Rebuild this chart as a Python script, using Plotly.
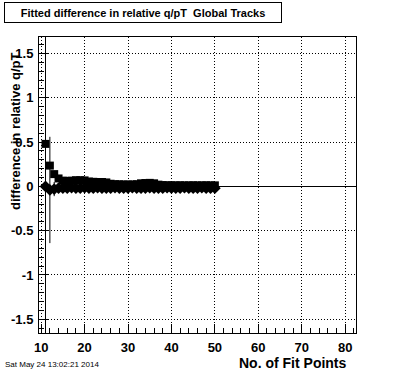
import plotly.graph_objects as go

# ---- data ----
fit_points = list(range(11, 51))

rel_diff_mean = [0.48, 0.235, 0.139, 0.09, 0.065, 0.062, 0.065, 0.07, 0.07, 0.068,
                 0.055, 0.052, 0.05, 0.05, 0.045, 0.03, 0.025, 0.024, 0.022, 0.022,
                 0.022, 0.025, 0.035, 0.038, 0.04, 0.035, 0.02, 0.015, 0.013, 0.013,
                 0.012, 0.013, 0.012, 0.012, 0.013, 0.012, 0.012, 0.013, 0.012, 0.012]

rel_diff_fit = [0.0, -0.04, -0.03, -0.02, -0.02, -0.02, -0.015, -0.02, -0.02, -0.015,
                -0.02, -0.02, -0.015, -0.02, -0.02, -0.02, -0.015, -0.02, -0.02, -0.02,
                -0.015, -0.02, -0.02, -0.02, -0.015, -0.02, -0.02, -0.02, -0.015, -0.02,
                -0.02, -0.02, -0.015, -0.02, -0.02, -0.02, -0.015, -0.02, -0.02, -0.02]

rel_diff_fit_err = [2.0, 0.6, 0.08, 0.04, 0.03, 0.025, 0.02, 0.02, 0.02, 0.02,
                    0.02, 0.02, 0.02, 0.02, 0.02, 0.02, 0.02, 0.02, 0.02, 0.02,
                    0.02, 0.02, 0.02, 0.02, 0.02, 0.02, 0.02, 0.02, 0.02, 0.02,
                    0.02, 0.02, 0.02, 0.02, 0.02, 0.02, 0.02, 0.02, 0.02, 0.02]

x_tick_vals = [10, 20, 30, 40, 50, 60, 70, 80]
x_tick_labels = ["10", "20", "30", "40", "50", "60", "70", "80"]
y_tick_vals = [-1.5, -1.0, -0.5, 0.0, 0.5, 1.0, 1.5]
y_tick_labels = ["-1.5", "-1", "-0.5", "0", "0.5", "1", "1.5"]

title_text = "Fitted difference in relative q/pT\u00a0\u00a0Global Tracks"
x_title = "No. of Fit Points"
y_title = "difference in relative q/pT"
date_text = "Sat May 24 13:02:21 2014"

FONT = "Liberation Sans, Arial, Helvetica, sans-serif"

fig = go.Figure()

fig.add_trace(go.Scatter(
    x=fit_points, y=rel_diff_fit, mode="markers",
    marker=dict(symbol="diamond", size=9, color="black"),
    error_y=dict(type="data", array=rel_diff_fit_err, color="black", thickness=1, width=0),
    cliponaxis=True, hoverinfo="x+y"))

fig.add_trace(go.Scatter(
    x=fit_points, y=rel_diff_mean, mode="markers",
    marker=dict(symbol="square", size=8, color="black"),
    cliponaxis=True, hoverinfo="x+y"))

axis_common = dict(
    showline=True, linecolor="black", linewidth=1, mirror=True,
    ticks="inside", ticklen=9, tickcolor="black", tickwidth=1,
    showgrid=True, gridcolor="black", gridwidth=1, griddash="1px,2px",
    tickfont=dict(family=FONT, size=13, color="black", weight="bold"),
)

W, H = 396, 372
L, R, T, B = 39, 40, 37, 39
PW, PH = W - L - R, H - T - B


def px_x(px):
    return (px - L) / PW


def px_y(py):
    return (H - B - py) / PH


fig.update_layout(
    width=W, height=H,
    margin=dict(l=L, r=R, t=T, b=B),
    paper_bgcolor="white", plot_bgcolor="white",
    showlegend=False,
    xaxis=dict(range=[9.5, 82.5], tickmode="array", tickvals=x_tick_vals,
               ticktext=x_tick_labels, zeroline=False, ticklabelstandoff=2,
               minor=dict(dtick=2, tick0=0, ticks="inside", ticklen=5,
                          tickcolor="black", showgrid=False),
               **axis_common),
    yaxis=dict(range=[-1.655, 1.687], tickmode="array", tickvals=y_tick_vals,
               ticktext=y_tick_labels, zeroline=True, zerolinecolor="black",
               zerolinewidth=1, ticklabelstandoff=2,
               minor=dict(dtick=0.1, tick0=0, ticks="inside", ticklen=5,
                          tickcolor="black", showgrid=False),
               **axis_common),
    annotations=[
        dict(text=title_text, xref="paper", yref="paper", x=px_x(4), y=px_y(2),
             xanchor="left", yanchor="top", showarrow=False, width=276, height=19,
             align="center", valign="middle", bordercolor="black", borderwidth=1,
             borderpad=0, bgcolor="white",
             font=dict(family=FONT, size=11, color="black", weight="bold")),
        dict(text=x_title, xref="paper", yref="paper", x=px_x(349), y=px_y(363),
             xanchor="right", yanchor="middle", showarrow=False,
             font=dict(family=FONT, size=14, color="black", weight="bold")),
        dict(text=y_title, xref="paper", yref="paper", x=px_x(15), y=px_y(50),
             xanchor="center", yanchor="top", showarrow=False, textangle=-90,
             font=dict(family=FONT, size=13, color="black", weight="bold")),
        dict(text=date_text, xref="paper", yref="paper", x=px_x(3), y=px_y(364),
             xanchor="left", yanchor="middle", showarrow=False,
             font=dict(family=FONT, size=8, color="black")),
    ],
)

fig.write_html("out.html",
               config={"displayModeBar": False},
               post_script="document.body.style.margin='0';document.body.style.overflow='hidden';")
